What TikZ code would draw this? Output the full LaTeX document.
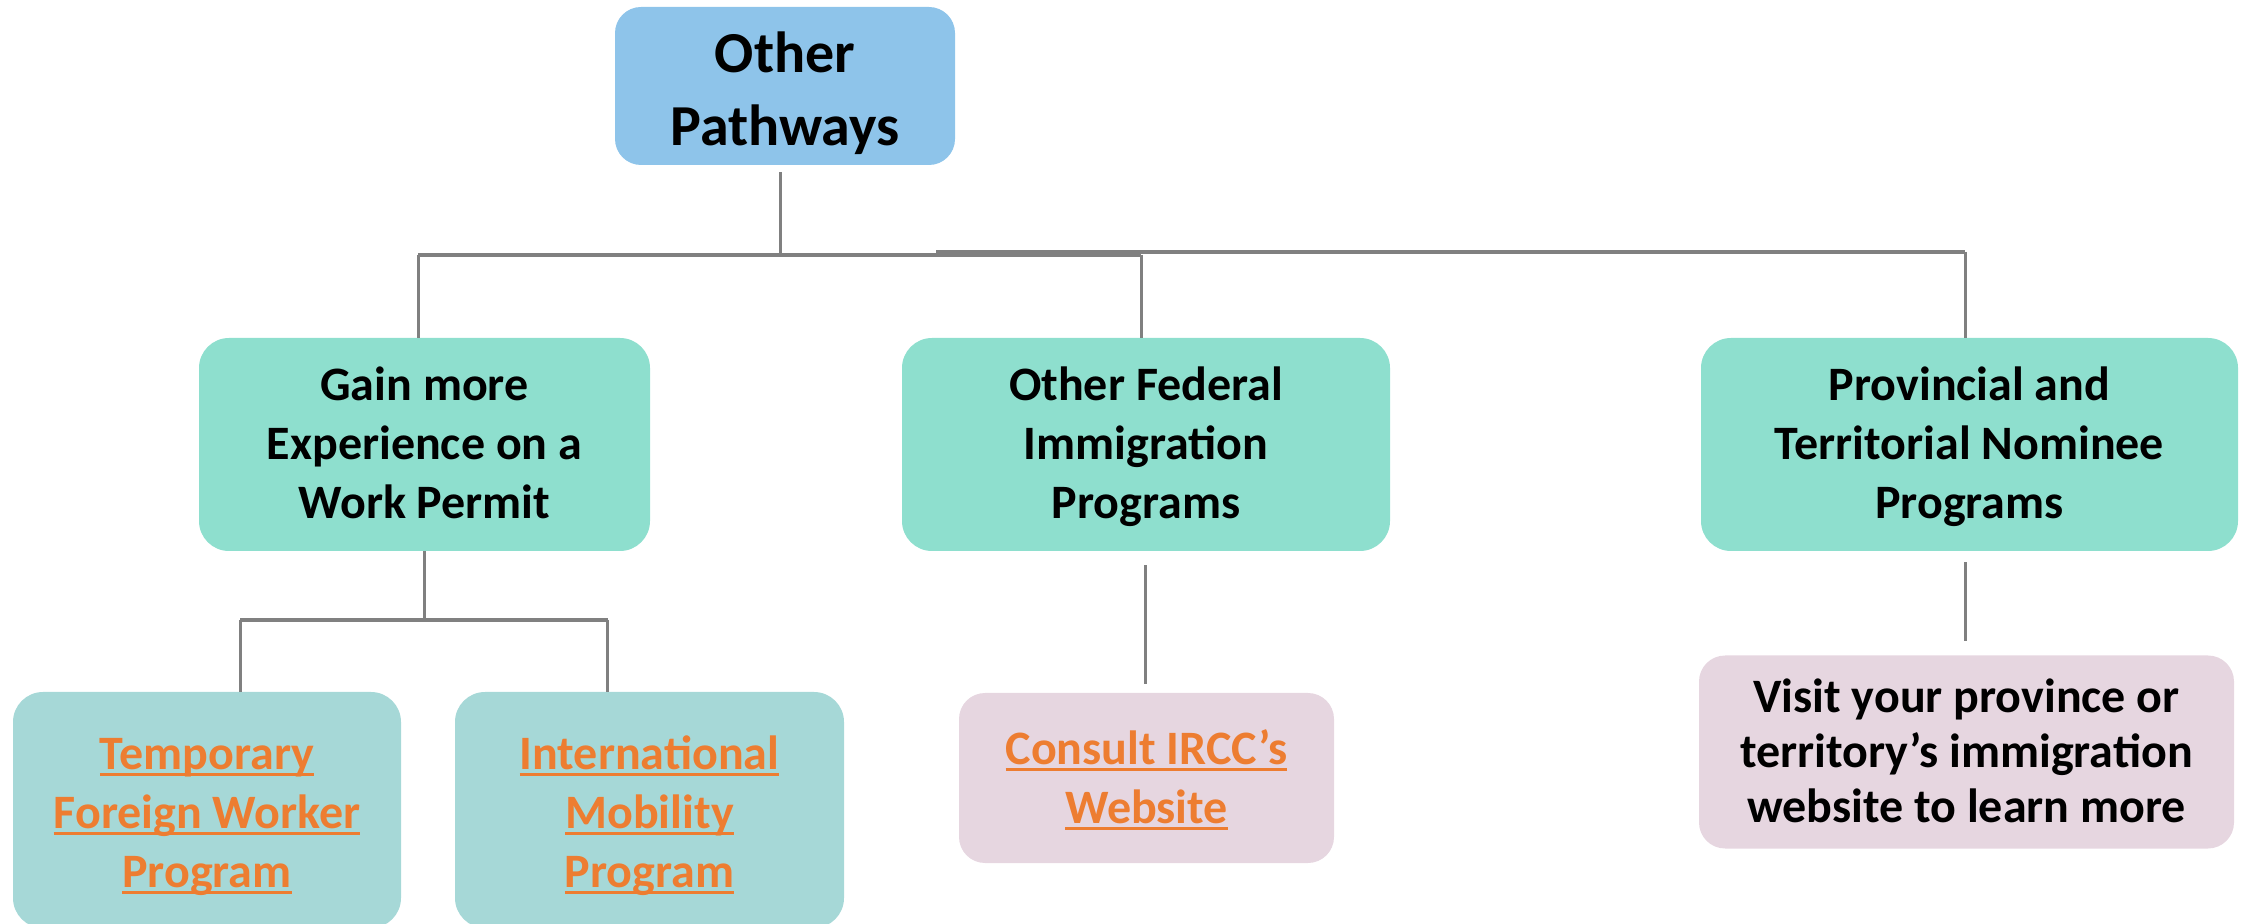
\documentclass[tikz,border=0pt]{standalone}
\usepackage{fontspec}
\setmainfont{Carlito}
\definecolor{rootblue}{HTML}{8EC4EA}
\definecolor{tealbox}{HTML}{8EDFCE}
\definecolor{ltteal}{HTML}{A6D8D7}
\definecolor{pinkbox}{HTML}{E6D6E0}
\definecolor{linkorange}{HTML}{ED7D31}
\definecolor{conngray}{HTML}{808080}
\newcommand\lnk[1]{\leavevmode\setbox0=\hbox{#1}\rlap{\rule[-0.14em]{\wd0}{0.065em}}\box0}
\newcommand\tst{\rule{0pt}{22pt}}
\newcommand\tstb{\rule{0pt}{25pt}}
\newcommand\bst{\rule[-6.5pt]{0pt}{6.5pt}}
\begin{document}
\begin{tikzpicture}[x=0.5pt,y=-0.5pt,
  box/.style={rounded corners=15pt, inner sep=0pt, align=center,
    font=\fontsize{24}{29.5}\selectfont\bfseries},
  linktext/.style={text=linkorange},
  conn/.style={draw=conngray, line width=1.5pt},
  bus/.style={draw=conngray, line width=2pt}]
\useasboundingbox (0,0) rectangle (2244,924);
% nodes
\node[box, fill=rootblue, rounded corners=13pt, minimum width=170pt, minimum height=79pt,
  font=\fontsize{29}{36.5}\selectfont\bfseries] (root) at (785,86)
  {\rule{0pt}{31pt}Other\\Pathways\rule[-8pt]{0pt}{8pt}};
\node[box, fill=tealbox, minimum width=225.5pt, minimum height=106.5pt] (gain) at (424.5,444.5)
  {\tst Gain more\\Experience on a\\Work Permit\bst};
\node[box, fill=tealbox, minimum width=244pt, minimum height=106.5pt] (fed) at (1146,444.5)
  {\tst Other Federal\\Immigration\\Programs\bst};
\node[box, fill=tealbox, minimum width=268.5pt, minimum height=106.5pt] (prov) at (1969.5,444.5)
  {\tst Provincial and\\Territorial Nominee\\Programs\bst};
\node[box, linktext, fill=ltteal, minimum width=194pt, minimum height=118pt] (tfw) at (207,810)
  {\tstb\lnk{Temporary}\\\lnk{Foreign Worker}\\\lnk{Program}\bst};
\node[box, linktext, fill=ltteal, minimum width=194.5pt, minimum height=118pt] (imp) at (649.5,810)
  {\tstb\lnk{International}\\\lnk{Mobility}\\\lnk{Program}\bst};
\node[box, linktext, fill=pinkbox, rounded corners=13pt, minimum width=187.5pt, minimum height=85pt] (ircc) at (1146.5,778)
  {\tst\lnk{Consult IRCC’s}\\\lnk{Website}\bst};
\node[box, fill=pinkbox, rounded corners=13pt, minimum width=267.5pt, minimum height=96.5pt,
  font=\fontsize{24}{27.5}\selectfont\bfseries] (visit) at (1966.5,752)
  {\tst Visit your province or\\territory’s immigration\\website to learn more\bst};
% bus levels and attachment points
\coordinate (busA) at (0,255);
\coordinate (busB) at (936,252);
\coordinate (busC) at (0,620);
\coordinate (roottap) at ([xshift=-2.5pt,yshift=-3.5pt]root.south);
\coordinate (gaintop) at ([xshift=-3.25pt]gain.north);
\coordinate (fedtop) at ([xshift=-2.5pt]fed.north);
\coordinate (provtop) at ([xshift=-2.25pt]prov.north);
\coordinate (tfwtop) at ([xshift=16.5pt]tfw.north);
\coordinate (imptop) at ([xshift=-21pt]imp.north);
\coordinate (fedbot) at ([xshift=-0.5pt,yshift=-7pt]fed.south);
\coordinate (provbot) at ([xshift=-2.25pt,yshift=-5.5pt]prov.south);
\coordinate (irccgap) at ([yshift=4.5pt]ircc.north);
\coordinate (visitgap) at ([yshift=7pt]visit.north);
% connectors
\draw[conn] (roottap) -- (roottap |- busA);
\draw[bus] (gaintop |- busA) -- (fedtop |- busA);
\draw[bus] (busB) -- (provtop |- busB);
\draw[conn] (gaintop |- busA) -- (gaintop);
\draw[conn] (fedtop |- busA) -- (fedtop);
\draw[conn] (provtop |- busB) -- (provtop);
\draw[conn] (gain.south) -- (gain.south |- busC);
\draw[bus] (tfwtop |- busC) -- (imptop |- busC);
\draw[conn] (tfwtop |- busC) -- (tfwtop);
\draw[conn] (imptop |- busC) -- (imptop);
\draw[conn] (fedbot) -- (fedbot |- irccgap);
\draw[conn] (provbot) -- (provbot |- visitgap);
\end{tikzpicture}
\end{document}
